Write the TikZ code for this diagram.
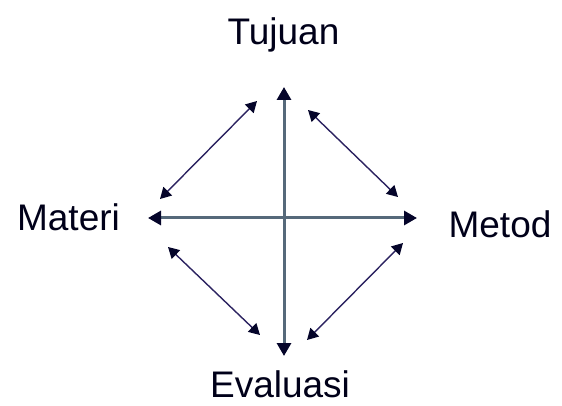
\documentclass[tikz,border=0pt]{standalone}
\usepackage{fontspec}
\setmainfont{Liberation Sans}
\usetikzlibrary{arrows.meta}
\definecolor{axisgray}{HTML}{56697A}
\definecolor{tipnavy}{HTML}{05052A}
\definecolor{diagnavy}{HTML}{2B2260}
\tikzset{
  lbl/.style={anchor=base, inner sep=0pt, font=\fontsize{37}{40}\selectfont, text=black!90!blue},
  axis/.style={draw=axisgray, line width=3pt, {Triangle[length=13pt,width=14pt,color=tipnavy]}-{Triangle[length=13pt,width=14pt,color=tipnavy]}},
  diag/.style={draw=diagnavy, line width=1.4pt, {Triangle[length=11pt,width=12pt,color=tipnavy]}-{Triangle[length=11pt,width=12pt,color=tipnavy]}}
}
\begin{document}
\begin{tikzpicture}[x=1pt,y=-1pt]
\useasboundingbox (0,0) rectangle (562,406);
\node[lbl] (tujuan) at (283.5,45) {Tujuan};
\node[lbl] (materi) at (68.5,230) {Materi};
\node[lbl] (metod) at (500,237) {Metod};
\node[lbl] (evaluasi) at (280,397) {Evaluasi};
\coordinate (vt) at (284,87);
\coordinate (vb) at (284,356);
\coordinate (hl) at (148,218);
\coordinate (hr) at (417,218);
\coordinate (tl1) at (160,199);
\coordinate (tl2) at (257,101);
\coordinate (tr1) at (308,110);
\coordinate (tr2) at (398,197);
\coordinate (br1) at (403,243);
\coordinate (br2) at (307,340);
\coordinate (bl1) at (168,247);
\coordinate (bl2) at (260,335);
\draw[axis] (vb) -- (vt);
\draw[axis] (hl) -- (hr);
\draw[diag] (tl1) -- (tl2);
\draw[diag] (tr1) -- (tr2);
\draw[diag] (br1) -- (br2);
\draw[diag] (bl1) -- (bl2);
\end{tikzpicture}
\end{document}
